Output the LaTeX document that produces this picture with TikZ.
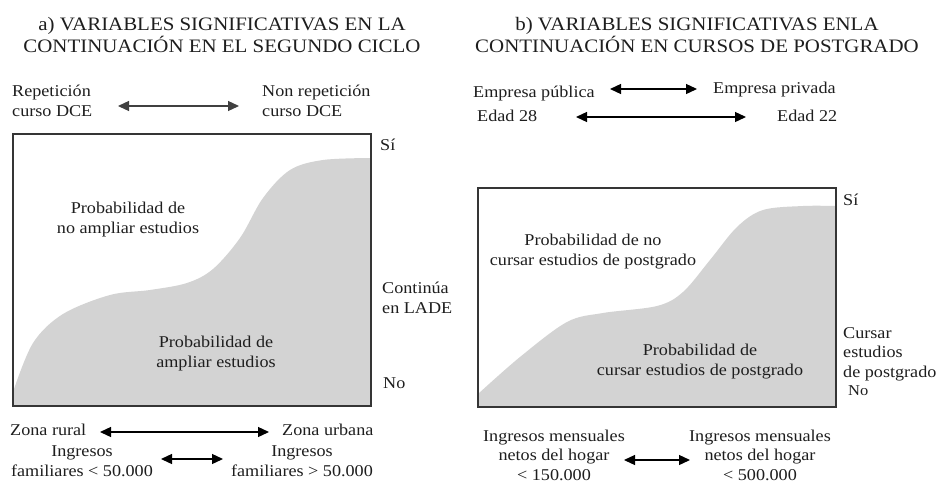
\documentclass[tikz,border=0pt]{standalone}
\usepackage{fontspec}
\setmainfont{Liberation Serif}[FakeStretch=1.1]
\usetikzlibrary{arrows.meta}
\definecolor{areagray}{RGB}{211,211,211}
\definecolor{ink}{RGB}{30,30,30}
\begin{document}
\begin{tikzpicture}[x=1pt,y=-1pt,
  title/.style={font=\fontsize{19}{22}\selectfont, text=ink, align=center, anchor=base, inner sep=0pt},
  lbl/.style={font=\fontsize{16.5}{19.5}\selectfont, text=ink, inner sep=0pt, anchor=base west, align=left},
  clbl/.style={font=\fontsize{16.5}{19.5}\selectfont, text=ink, inner sep=0pt, anchor=base, align=center},
  small/.style={font=\fontsize{15}{17}\selectfont, text=ink, inner sep=0pt, anchor=base west},
  dblarrow/.style={{Triangle[length=11pt,width=10pt]}-{Triangle[length=11pt,width=10pt]}, line width=1.3pt, draw=black},
  frame/.style={draw=ink!90, line width=1.3pt},
  area/.style={fill=areagray, draw=none}
]
\useasboundingbox[fill=white] (0,0) rectangle (939,482);

% ---------- Panel a ----------
\node[title] (ta) at (222,52) {a) VARIABLES SIGNIFICATIVAS EN LA\\CONTINUACIÓN EN EL SEGUNDO CICLO};

\node[lbl] (rep) at (12,116) {Repetición\\curso DCE};
\node[lbl] (nrep) at (262,116) {Non repetición\\curso DCE};
\coordinate (a1l) at (118,106);
\coordinate (a1r) at (239,106);
\draw[dblarrow, draw=black!75] (a1l) -- (a1r);

\coordinate (boxaTL) at (13,134);
\coordinate (boxaBR) at (371,406);
\fill[area] (13,406) -- (13,392)
  -- plot[smooth, tension=0.55] coordinates {(13,392) (33,343) (63,314) (110,295) (150,290) (187,283) (213,269) (240,238) (263,198) (290,170) (323,160) (371,158)}
  -- (371,406) -- cycle;
\draw[frame] (boxaTL) rectangle (boxaBR);

\node[lbl] (sia) at (380,150) {Sí};
\node[lbl] (conta) at (382,313) {Continúa\\en LADE};
\node[lbl] (noa) at (383,388) {No};

\node[clbl] (pna) at (128,233) {Probabilidad de\\no ampliar estudios};
\node[clbl] (pa) at (216,367) {Probabilidad de\\ampliar estudios};

\node[lbl] (zr) at (10,435) {Zona rural};
\node[lbl] (zu) at (282,435) {Zona urbana};
\coordinate (a2l) at (100,432);
\coordinate (a2r) at (269,432);
\draw[dblarrow] (a2l) -- (a2r);

\node[clbl] (ifl) at (82,476) {Ingresos\\familiares < 50.000};
\node[clbl] (ifh) at (302,476) {Ingresos\\familiares > 50.000};
\coordinate (a3l) at (161,459);
\coordinate (a3r) at (223,459);
\draw[dblarrow] (a3l) -- (a3r);

% ---------- Panel b ----------
\node[title] (tb) at (697,52) {b) VARIABLES SIGNIFICATIVAS ENLA\\CONTINUACIÓN EN CURSOS DE POSTGRADO};

\node[lbl] (epu) at (473,97) {Empresa pública};
\node[lbl] (epr) at (713,93) {Empresa privada};
\coordinate (b1l) at (610,89);
\coordinate (b1r) at (697,89);
\draw[dblarrow] (b1l) -- (b1r);

\node[lbl] (e28) at (477,121) {Edad 28};
\node[lbl] (e22) at (777,121) {Edad 22};
\coordinate (b2l) at (576,117);
\coordinate (b2r) at (746,117);
\draw[dblarrow] (b2l) -- (b2r);

\coordinate (boxbTL) at (478,188);
\coordinate (boxbBR) at (836,407);
\fill[area] (478,407) -- (478,394)
  -- plot[smooth, tension=0.55] coordinates {(478,394) (520,357) (567,322) (603,313) (657,306) (683,292) (710,260) (737,227) (763,210) (803,206) (836,206)}
  -- (836,407) -- cycle;
\draw[frame] (boxbTL) rectangle (boxbBR);

\node[lbl] (sib) at (843,205) {Sí};
\node[lbl] (curs) at (843,377) {Cursar\\estudios\\de postgrado};
\node[small] (nob) at (848,395) {No};

\node[clbl] (pnb) at (593,265) {Probabilidad de no\\cursar estudios de postgrado};
\node[clbl] (pb) at (700,375) {Probabilidad de\\cursar estudios de postgrado};

\node[clbl] (iml) at (554,480) {Ingresos mensuales\\netos del hogar\\< 150.000};
\node[clbl] (imh) at (760,480) {Ingresos mensuales\\netos del hogar\\< 500.000};
\coordinate (b3l) at (624,460);
\coordinate (b3r) at (690,460);
\draw[dblarrow] (b3l) -- (b3r);
\end{tikzpicture}
\end{document}
